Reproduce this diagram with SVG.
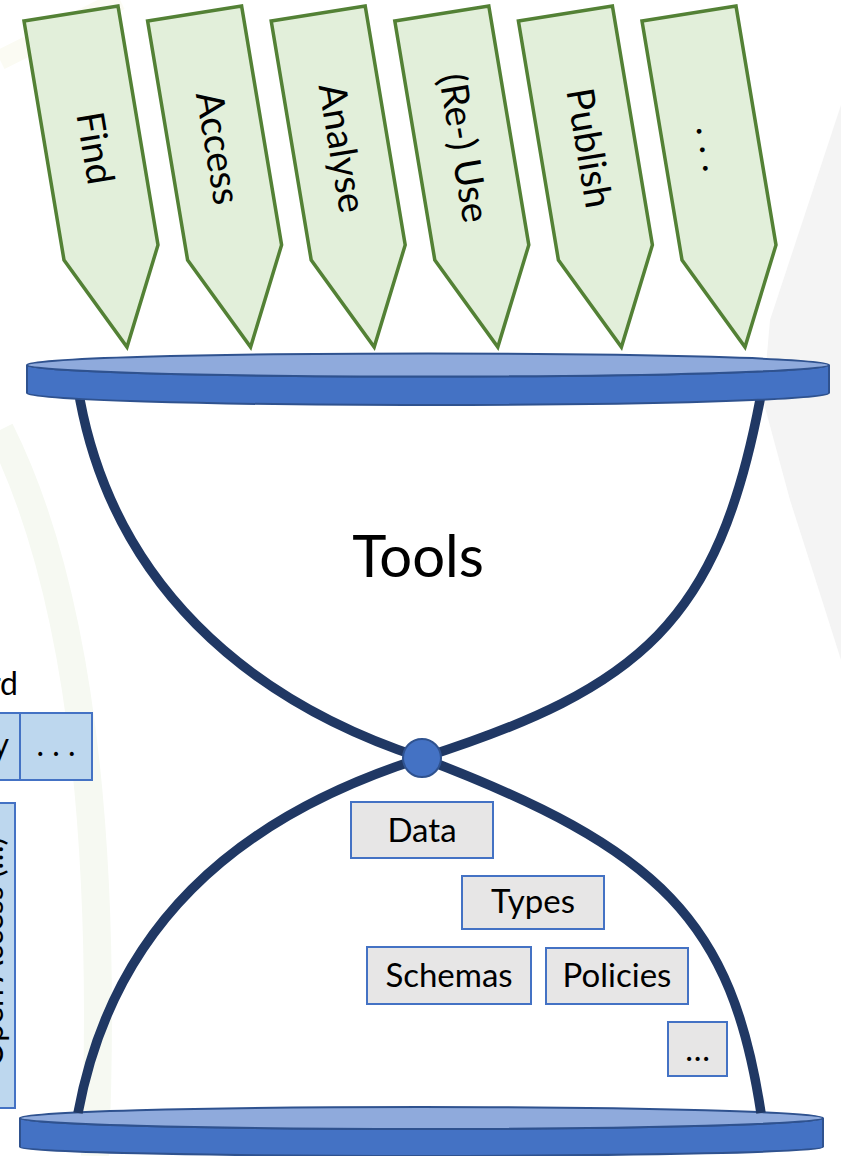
<svg xmlns="http://www.w3.org/2000/svg" width="841" height="1156" viewBox="0 0 841 1156">
<defs>
<style>
.arrow{fill:#E2EFDA;stroke:#538135;stroke-width:3.5;stroke-linejoin:miter}
.atext{font-family:Lato,"Open Sans","Liberation Sans",sans-serif;font-size:38px;fill:#000;text-anchor:middle}
.disk-side{fill:#4472C4;stroke:#2F528F;stroke-width:2}
.disk-top{fill:#8FAADC;stroke:#2F528F;stroke-width:2}
.curve{fill:none;stroke:#203864;stroke-width:9.5}
.box{fill:#E7E6E6;stroke:#4472C4;stroke-width:2}
.lbox{fill:#BDD7EE;stroke:#4472C4;stroke-width:2}
.btext{font-family:Lato,"Open Sans","Liberation Sans",sans-serif;font-size:33px;fill:#000;text-anchor:middle}
.ltext{font-family:Lato,"Open Sans","Liberation Sans",sans-serif;font-size:32px;fill:#000}
</style>
</defs>
<rect x="0" y="0" width="841" height="1156" fill="#FFFFFF"/>
<g id="background">
<polygon points="841,105 770,320 763,400 790,500 822,600 841,660" fill="#F4F4F4"/>
<path d="M0,430 Q115,660 95,1156" fill="none" stroke="#F6F9F2" stroke-width="28"/>
<path d="M0,60 Q60,30 120,0" fill="none" stroke="#FBFBF3" stroke-width="20"/>
</g>
<g id="arrows">
<g id="arrow-find">
<polygon class="arrow" points="24,21 118,6 158,245 127,347 64,260"/>
<g transform="translate(95,148) rotate(80.5)"><text class="atext" x="0" y="13">Find</text></g>
</g>
<g id="arrow-access">
<polygon class="arrow" transform="translate(123.6,0)" points="24,21 118,6 158,245 127,347 64,260"/>
<g transform="translate(218,148) rotate(80.5)"><text class="atext" x="0" y="13">Access</text></g>
</g>
<g id="arrow-analyse">
<polygon class="arrow" transform="translate(247.2,0)" points="24,21 118,6 158,245 127,347 64,260"/>
<g transform="translate(342,148) rotate(80.5)"><text class="atext" x="0" y="13">Analyse</text></g>
</g>
<g id="arrow-reuse">
<polygon class="arrow" transform="translate(370.8,0)" points="24,21 118,6 158,245 127,347 64,260"/>
<g transform="translate(464,148) rotate(80.5)"><text class="atext" x="0" y="13">(Re-) Use</text></g>
</g>
<g id="arrow-publish">
<polygon class="arrow" transform="translate(494.4,0)" points="24,21 118,6 158,245 127,347 64,260"/>
<g transform="translate(589,148) rotate(80.5)"><text class="atext" x="0" y="13">Publish</text></g>
</g>
<g id="arrow-more">
<polygon class="arrow" transform="translate(618,0)" points="24,21 118,6 158,245 127,347 64,260"/>
<g transform="translate(713,148) rotate(80.5)"><text class="atext" x="0" y="13">. . .</text></g>
</g>
</g>
<g id="connectors">
<path class="curve" d="M79,388 L80,400 C114,580 242,699 422,758"/>
<path class="curve" d="M761,388 L760,400 C718,620 642,688 422,758"/>
</g>
<g id="top-disk">
<path class="disk-side" d="M27,365 L27,393 A401,12 0 0 0 829,393 L829,365 A401,11.5 0 0 1 27,365 Z"/>
<ellipse class="disk-top" cx="428" cy="365" rx="401" ry="11.5"/>
</g>
<g id="bottom-disk">
<path class="disk-side" d="M20,1118 L20,1147 A401.5,9 0 0 0 823,1147 L823,1118 A401.5,11 0 0 1 20,1118 Z"/>
<ellipse class="disk-top" cx="421.5" cy="1118" rx="401.5" ry="11"/>
</g>
<g id="connectors-bottom">
<path class="curve" d="M422,758 C232,818 112,930 78,1113"/>
<path class="curve" d="M422,758 C662,849 732,922 761,1113"/>
</g>
<g id="tools">
<text x="418" y="577" font-family="Lato,'Open Sans','Liberation Sans',sans-serif" font-size="58" text-anchor="middle" fill="#000">Tools</text>
</g>
<g id="waist">
<circle cx="422" cy="758" r="19" fill="#4472C4" stroke="#2F528F" stroke-width="2"/>
</g>
<g id="box-data">
<rect class="box" x="351" y="802" width="142" height="56"/>
<text class="btext" x="422" y="842">Data</text>
</g>
<g id="box-types">
<rect class="box" x="462" y="876" width="142" height="53"/>
<text class="btext" x="533" y="913">Types</text>
</g>
<g id="box-schemas">
<rect class="box" x="367" y="947" width="164" height="57"/>
<text class="btext" x="449" y="987">Schemas</text>
</g>
<g id="box-policies">
<rect class="box" x="546" y="948" width="142" height="56"/>
<text class="btext" x="617" y="987">Policies</text>
</g>
<g id="box-more">
<rect class="box" x="668" y="1022" width="59" height="54"/>
<text class="btext" x="697.5" y="1061" font-size="28">…</text>
</g>
<g id="left-label">
<text class="ltext" x="18" y="695" text-anchor="end" font-size="38">Standard</text>
</g>
<g id="left-box-1">
<rect class="lbox" x="-70" y="713" width="90" height="67"/>
<text class="ltext" x="9" y="756" text-anchor="end" font-size="30">Ontology</text>
</g>
<g id="left-box-2">
<rect class="lbox" x="20" y="713" width="72" height="67"/>
<text class="ltext" x="56" y="756" text-anchor="middle" font-size="28">. . .</text>
</g>
<g id="left-box-3">
<rect class="lbox" x="-70" y="803" width="85" height="305"/>
<g transform="translate(3,952) rotate(-90)"><text class="ltext" x="0" y="0" text-anchor="middle">Open Access (…)</text></g>
</g>
</svg>
